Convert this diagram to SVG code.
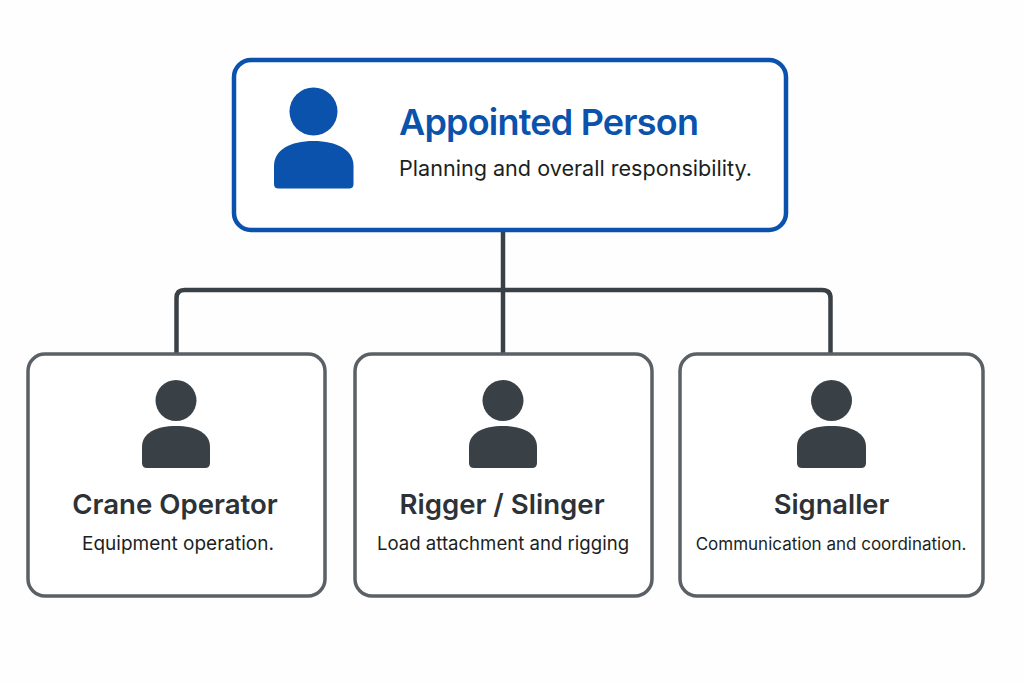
<svg xmlns="http://www.w3.org/2000/svg" width="1024" height="683" viewBox="0 0 1024 683">
<style>
.bg{fill:#fefefe}
.card{fill:#fff;stroke:#5a6066;stroke-width:3.5}
.root{fill:#fff;stroke:#0b52ad;stroke-width:4.5}
.conn{fill:none;stroke:#3a4146;stroke-width:4.500}
.ico{fill:#3a4146}
.ico-b{fill:#0b52ad}
text{font-family:Inter,"Liberation Sans",sans-serif}
.t{font-size:27.600px;font-weight:600;fill:#2d3236;text-anchor:middle}
.s{font-size:18px;fill:#1c1f22;text-anchor:middle}
</style>
<rect class="bg" width="1024" height="683"/>
<g id="connectors">
<path class="conn" d="M503 230V354"/>
<path class="conn" d="M176.500 354V298Q176.500 290 184.500 290H822Q830.500 290 830.500 298V354"/>
</g>
<g id="appointed-person">
<rect class="root" x="234" y="60" width="552" height="170" rx="17"/>
<circle class="ico-b" cx="313.500" cy="111.500" r="24"/>
<path class="ico-b" d="M274 166C274 150 290 141 313.500 141S353.500 150 353.500 166V184Q353.500 188.500 349 188.500H278.500Q274 188.500 274 184Z"/>
<text x="399" y="135" font-size="36" font-weight="600" fill="#0b52ad" letter-spacing="-0.800">Appointed Person</text>
<text x="399" y="176" font-size="21.600" fill="#1c1f22">Planning and overall responsibility.</text>
</g>
<g id="crane-operator">
<rect class="card" x="28" y="354" width="297" height="242" rx="17"/>
<circle class="ico" cx="176" cy="400.500" r="20.500"/>
<path class="ico" d="M142 447C142 433 156 426 176 426S210 433 210 447V463Q210 468 205 468H147Q142 468 142 463Z"/>
<text class="t" x="175" y="514">Crane Operator</text>
<text class="s" x="178" y="550" style="font-size:19px">Equipment operation.</text>
</g>
<g id="rigger-slinger">
<rect class="card" x="355" y="354" width="297" height="242" rx="17"/>
<circle class="ico" cx="503" cy="400.500" r="20.500"/>
<path class="ico" d="M469 447C469 433 483 426 503 426S537 433 537 447V463Q537 468 532 468H474Q469 468 469 463Z"/>
<text class="t" x="502" y="514">Rigger / Slinger</text>
<text class="s" x="503" y="550" style="font-size:18.600px">Load attachment and rigging</text>
</g>
<g id="signaller">
<rect class="card" x="680" y="354" width="303" height="242" rx="17"/>
<circle class="ico" cx="831.500" cy="400.500" r="20.500"/>
<path class="ico" d="M797 447C797 433 811 426 831.500 426S866 433 866 447V463Q866 468 861 468H802Q797 468 797 463Z"/>
<text class="t" x="831.500" y="514" style="font-size:27.300px">Signaller</text>
<text class="s" x="831" y="550" style="font-size:17px">Communication and coordination.</text>
</g>
</svg>
